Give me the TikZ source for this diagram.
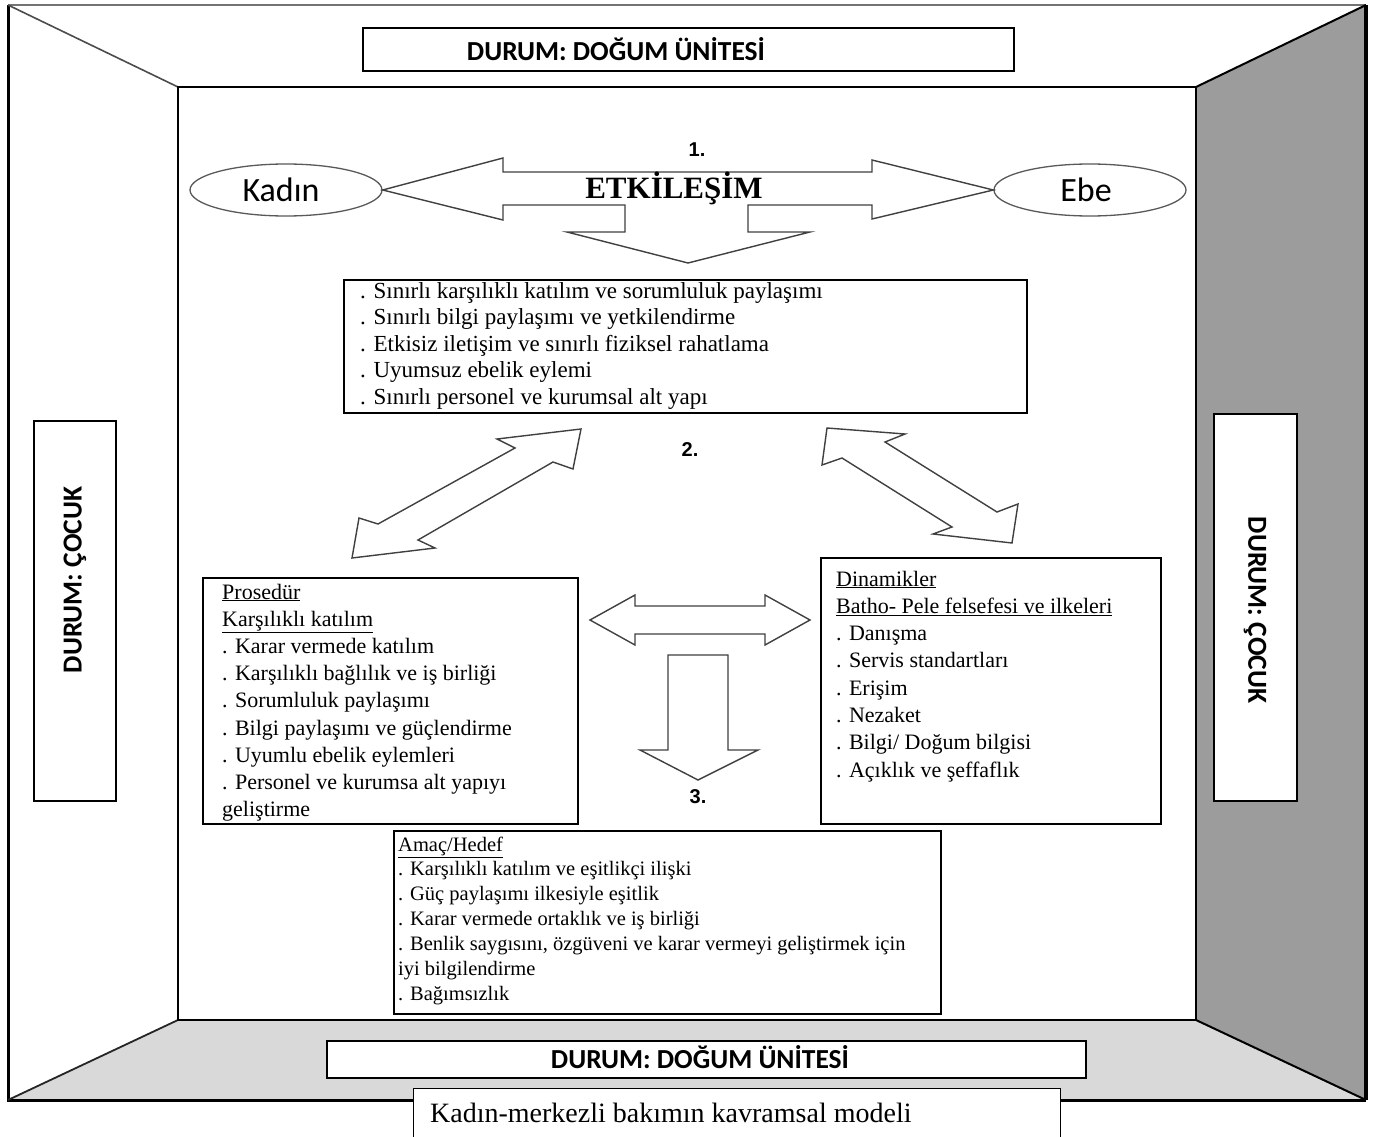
\documentclass[tikz,border=0pt]{standalone}
\usepackage{fontspec}
\setmainfont{Liberation Serif}
\newfontfamily\calibri{Carlito}
\newfontfamily\arialf{Liberation Sans}
\usetikzlibrary{calc,shapes.geometric}

% double-headed block arrow between two tips:
% #1,#2 tips, #3 half shaft width, #4 half head width, #5 head length
\newcommand\blockdbl[5]{%
  \coordinate (hA) at ($(#1)!#5!(#2)$);
  \coordinate (hB) at ($(#2)!#5!(#1)$);
  \draw[arrowline] (#1) -- ($(hA)!#4!90:(#1)$) -- ($(hA)!#3!90:(#1)$)
     -- ($(hB)!#3!-90:(#2)$) -- ($(hB)!#4!-90:(#2)$) -- (#2)
     -- ($(hB)!#4!90:(#2)$) -- ($(hB)!#3!90:(#2)$)
     -- ($(hA)!#3!-90:(#1)$) -- ($(hA)!#4!-90:(#1)$) -- cycle;
}

\begin{document}
\begin{tikzpicture}[x=1pt,y=-1pt,
  panel/.style={draw, line width=1.8pt, fill=white, inner sep=0pt, anchor=north west},
  roomlabel/.style={font=\calibri\bfseries\fontsize{27.5}{30}\selectfont, inner sep=0pt},
  toptext/.style={font=\fontsize{23}{26}\selectfont, inner sep=0pt, anchor=base west},
  bodytext/.style={font=\fontsize{22}{24}\selectfont, inner sep=0pt, anchor=base west},
  smalltext/.style={font=\fontsize{20.5}{22}\selectfont, inner sep=0pt, anchor=base west},
  arrowline/.style={draw=black!75, line width=1.4pt, fill=white, line join=miter},
  oval/.style={ellipse, draw=black!65, line width=1.3pt, minimum width=192pt,
     minimum height=52pt, inner sep=0pt, fill=white, font=\calibri\fontsize{34}{36}\selectfont},
  num/.style={font=\arialf\bfseries\fontsize{20}{22}\selectfont, inner sep=0pt}]

\useasboundingbox (0,0) rectangle (1377,1137);
\fill[white] (0,0) rectangle (1377,1137);

% room corners
\coordinate (otl) at (8,5);    \coordinate (otr) at (1366,5);
\coordinate (obl) at (8,1100); \coordinate (obr) at (1366,1100);
\coordinate (itl) at (178,87); \coordinate (itr) at (1196,87);
\coordinate (ibl) at (178,1020); \coordinate (ibr) at (1196,1020);

% floor and right wall
\fill[black!15] (ibl) -- (ibr) -- (obr) -- (obl) -- cycle;
\fill[black!39] (itr) -- (otr) -- (obr) -- (ibr) -- cycle;

% room edges
\draw[black!55, line width=2pt] (otl) -- (otr);
\draw[line width=3pt] (otl) -- (obl) -- (obr);
\draw[line width=3.5pt] (otr) -- (obr);
\draw[black!70, line width=1.6pt] (otl) -- (itl);
\draw[black!85, line width=1.8pt] (obl) -- (ibl);
\draw[line width=2pt] (otr) -- (itr);
\draw[line width=2pt] (obr) -- (ibr);
\draw[line width=2.6pt] (itl) rectangle (ibr);

% wall labels
\node[panel, minimum width=651pt, minimum height=43pt] (topwall) at (362,27) {};
\node[roomlabel] (topwalltxt) at (616,49) {DURUM: DOĞUM ÜNİTESİ};
\node[panel, minimum width=759pt, minimum height=37pt] (floorlab) at (326,1040) {};
\node[roomlabel] (floorlabtxt) at (700,1057) {DURUM: DOĞUM ÜNİTESİ};
\node[panel, minimum width=82pt, minimum height=380pt] (leftwall) at (33,420) {};
\node[roomlabel, rotate=90] (leftwalltxt) at (75,580) {DURUM: ÇOCUK};
\node[panel, minimum width=83pt, minimum height=387pt] (rightwall) at (1213,413) {};
\node[roomlabel, rotate=-90] (rightwalltxt) at (1255,610) {DURUM: ÇOCUK};

% partners
\node[oval] (kadin) at (286,190) {\hspace*{-10pt}Kadın};
\node[oval] (ebe) at (1090,190) {\hspace*{-8pt}Ebe};

% interaction arrow (double arrow with a downward branch)
\draw[arrowline] (kadin.east) -- (503,158) -- (503,172) -- (872,172) -- (872,160)
  -- (ebe.west) -- (872,219) -- (872,205) -- (748,205) -- (748,232) -- (810,232)
  -- (688,263) -- (567,232) -- (625,232) -- (625,205) -- (503,205) -- (503,220) -- cycle;
\node[font=\bfseries\fontsize{31}{34}\selectfont, inner sep=0pt] (etk) at (674,188) {ETKİLEŞİM};
\node[num] (n1) at (697,150) {1.};

% current situation
\node[panel, minimum width=683pt, minimum height=133pt] (limits) at (343,279) {};
\foreach \t [count=\i] in {%
  . Sınırlı karşılıklı katılım ve sorumluluk paylaşımı,
  . Sınırlı bilgi paylaşımı ve yetkilendirme,
  . Etkisiz iletişim ve sınırlı fiziksel rahatlama,
  . Uyumsuz ebelik eylemi,
  . Sınırlı personel ve kurumsal alt yapı}
  \node[toptext] (lim-\i) at (360,{298+(\i-1)*26.5}) {\t};

\node[num] (n2) at (690,450) {2.};

% procedure
\node[panel, minimum width=375pt, minimum height=246pt] (proc) at (202,577) {};
\foreach \t [count=\i] in {%
  \underline{Prosedür},
  \underline{Karşılıklı katılım},
  . Karar vermede katılım,
  . Karşılıklı bağlılık ve iş birliği,
  . Sorumluluk paylaşımı,
  . Bilgi paylaşımı ve güçlendirme,
  . Uyumlu ebelik eylemleri,
  . Personel ve kurumsa alt yapıyı,
  geliştirme}
  \node[bodytext] (proc-\i) at (222,{599+(\i-1)*27.2}) {\t};

% dynamics
\node[panel, minimum width=340pt, minimum height=266pt] (dyn) at (820,557) {};
\foreach \t [count=\i] in {%
  \underline{Dinamikler},
  \underline{Batho- Pele felsefesi ve ilkeleri},
  . Danışma,
  . Servis standartları,
  . Erişim,
  . Nezaket,
  . Bilgi/ Doğum bilgisi,
  . Açıklık ve şeffaflık}
  \node[bodytext] (dyn-\i) at (836,{586+(\i-1)*27.3}) {\t};

% goal
\node[panel, minimum width=547pt, minimum height=183pt] (goal) at (393,830) {};
\foreach \t [count=\i] in {%
  \underline{Amaç/Hedef},
  . Karşılıklı katılım ve eşitlikçi ilişki,
  . Güç paylaşımı ilkesiyle eşitlik,
  . Karar vermede ortaklık ve iş birliği,
  {. Benlik saygısını, özgüveni ve karar vermeyi geliştirmek için},
  iyi bilgilendirme,
  . Bağımsızlık}
  \node[smalltext] (goal-\i) at (398,{851+(\i-1)*24.9}) {\t};

% connecting arrows
\draw[arrowline] (581,429) -- (497,439) -- (515,448) -- (378,524) -- (359,518)
  -- (352,558) -- (435,548) -- (418,540) -- (553,462) -- (573,469) -- cycle;
\draw[arrowline] (827,428) -- (905,434) -- (885,442) -- (997,512) -- (1018,504)
  -- (1012,543) -- (933,534) -- (952,527) -- (842,458) -- (822,465) -- cycle;
\coordinate (ma1) at (590,620); \coordinate (ma2) at (810,620);
\blockdbl{ma1}{ma2}{14pt}{25pt}{45pt}
\draw[arrowline] (668,655) -- (728,655) -- (728,750) -- (758,750) -- (698,780)
  -- (640,750) -- (668,750) -- cycle;
\node[num] (n3) at (698,797) {3.};

% caption
\node[draw, line width=0.9pt, fill=white, anchor=north west, inner sep=0pt,
  minimum width=647pt, minimum height=60pt] (caption) at (413,1088) {};
\node[font=\fontsize{28}{30}\selectfont, inner sep=0pt, anchor=base west]
  (captiontxt) at (430,1122) {Kadın-merkezli bakımın kavramsal modeli};
\end{tikzpicture}
\end{document}
